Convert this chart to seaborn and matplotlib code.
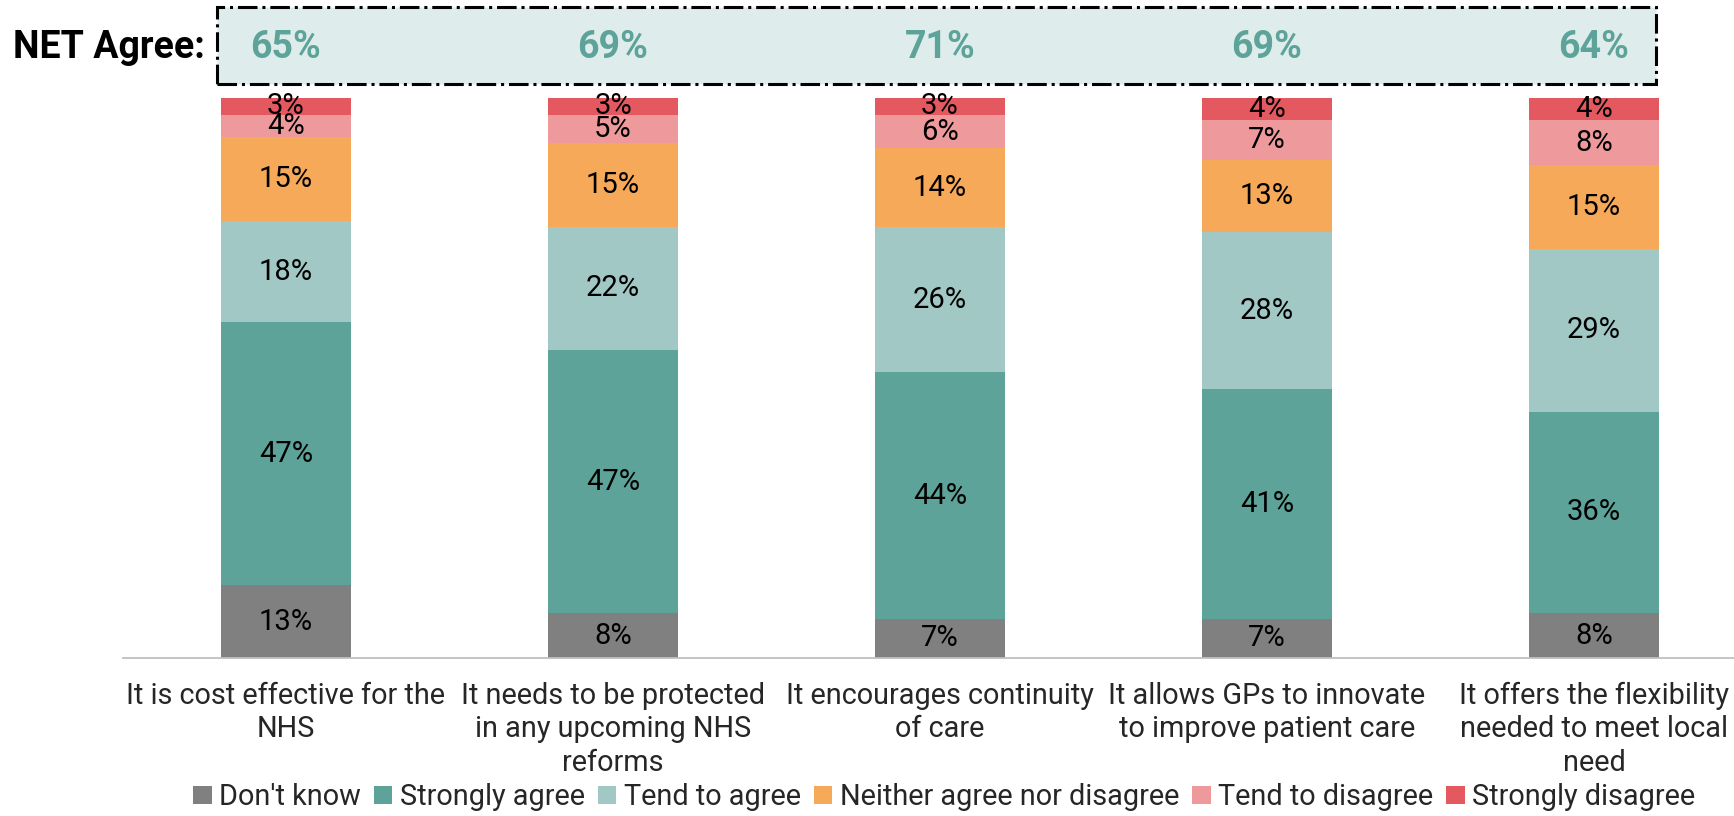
import numpy as np
import pandas as pd
import matplotlib
matplotlib.use("Agg")
import matplotlib.pyplot as plt
import matplotlib.transforms as mtransforms
from matplotlib.patches import Rectangle, Patch
import seaborn as sns

categories = [
    "It is cost effective for the\nNHS",
    "It needs to be protected\nin any upcoming NHS\nreforms",
    "It encourages continuity\nof care",
    "It allows GPs to innovate\nto improve patient care",
    "It offers the flexibility\nneeded to meet local\nneed",
]
responses = ["Don't know", "Strongly agree", "Tend to agree",
             "Neither agree nor disagree", "Tend to disagree", "Strongly disagree"]
dont_know = [13, 8, 7, 7, 8]
strongly_agree = [47, 47, 44, 41, 36]
tend_agree = [18, 22, 26, 28, 29]
neither = [15, 15, 14, 13, 15]
tend_disagree = [4, 5, 6, 7, 8]
strongly_disagree = [3, 3, 3, 4, 4]
net_agree = [65, 69, 71, 69, 64]

colors = ["#808080", "#5DA399", "#A1C8C4", "#F5A959", "#EE9A9C", "#E3595F"]

series = [dont_know, strongly_agree, tend_agree, neither, tend_disagree, strongly_disagree]

sns.set_theme(style="white")
plt.rcParams["font.family"] = ["Roboto", "DejaVu Sans"]

fig = plt.figure(figsize=(17.34, 8.16), dpi=100)
W, H = 1734, 816
ax = fig.add_axes([122.5 / W, (H - 658) / H, 1635 / W, 560 / H])

cum = np.cumsum(np.array(series, dtype=float), axis=0)
# draw from the top-most cumulative down so lower segments overlay
for i in range(len(series) - 1, -1, -1):
    df = pd.DataFrame({"cat": categories, "val": cum[i]})
    sns.barplot(data=df, x="cat", y="val", order=categories, color=colors[i],
                width=0.4, saturation=1, ax=ax, linewidth=0)

# segment labels
for i, s in enumerate(series):
    bottoms = cum[i] - np.array(s)
    for j, v in enumerate(s):
        ax.text(j, bottoms[j] + v / 2, f"{v}%", ha="center", va="center",
                fontsize=21, color="black")

ax.set_xlim(-0.5, 4.5)
ax.set_ylim(0, 100)
ax.set_xlabel("")
ax.set_ylabel("")
ax.set_yticks([])
for sp in ["top", "right", "left"]:
    ax.spines[sp].set_visible(False)
ax.spines["bottom"].set_color("#BFBFBF")
ax.spines["bottom"].set_linewidth(1.3)
ax.set_xticks(range(len(categories)))
ax.set_xticklabels(categories, fontsize=20.8, linespacing=1.25)
ax.tick_params(axis="x", which="major", length=0, pad=17)
ax.set_xticks(np.arange(-0.5, 5, 1.0), minor=True)
ax.tick_params(axis="x", which="minor", length=7, width=1.3, color="#BFBFBF", direction="out")

# NET box
box = Rectangle((217 / W, (H - 84) / H), 1439 / W, 77 / H, transform=fig.transFigure,
                facecolor="#DFECEC", edgecolor="black", linestyle="-.", linewidth=2.2,
                zorder=-1)
fig.patches.append(box)
fig.text(205 / W, (H - 47) / H, "NET Agree:", ha="right", va="center",
         fontsize=27, fontweight="bold", color="black")
trans = mtransforms.blended_transform_factory(ax.transData, fig.transFigure)
for j, v in enumerate(net_agree):
    ax.text(j, (H - 47) / H, f"{v}%", transform=trans, ha="center", va="center",
            fontsize=27, fontweight="bold", color="#5DA399", clip_on=False, zorder=10)

handles = [Patch(facecolor=c, edgecolor="none", label=r) for c, r in zip(colors, responses)]
fig.legend(handles=handles, loc="center", bbox_to_anchor=(944 / W, (H - 797) / H),
           ncol=6, frameon=False, fontsize=20.8, handlelength=0.65, handleheight=0.6,
           handletextpad=0.25, columnspacing=0.45, borderaxespad=0, borderpad=0)

fig.savefig("out.png", dpi=100)
